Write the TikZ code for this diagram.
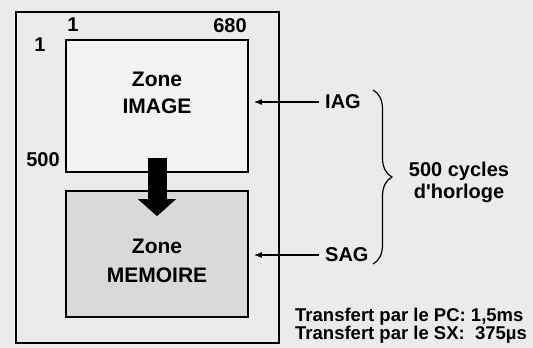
\documentclass[tikz,border=0pt]{standalone}
\usepackage{fontspec}
\setmainfont{Liberation Sans}
\usetikzlibrary{arrows.meta,decorations.pathreplacing,positioning,calc}

\tikzset{
  zone/.style={draw, line width=1.6pt, minimum width=182pt, inner sep=0pt},
  lbl/.style={font=\bfseries\fontsize{20}{26}\selectfont, inner sep=1pt, align=center},
  sig/.style={-{Latex[length=8pt,width=6pt]}, line width=1.2pt},
}

\begin{document}
\begin{tikzpicture}[x=1pt,y=-1pt]
  \fill[black!8] (0,0) rectangle (533,348);
  \useasboundingbox (0,0) rectangle (533,348);
  % frame of the sensor
  \draw[line width=2pt] (16,12) rectangle (279,343);
  \node[zone, fill=black!5, minimum height=132pt] (image) at (157,106) {};
  \node[zone, fill=black!15, minimum height=126pt] (memoire) at (157,254) {};
  \node[lbl, font=\bfseries\fontsize{21}{27}\selectfont] (timage)
    at ($(image.center)+(0,-13)$) {Zone\\IMAGE};
  \node[lbl, font=\bfseries\fontsize{21}{29}\selectfont] (tmemoire)
    at ($(memoire.center)+(0,7)$) {Zone\\MEMOIRE};

  % pixel numbers
  \node[lbl] (r1) at (40,45) {1};
  \node[lbl] (c1) at (73,25) {1};
  \node[lbl] (c680) at (230,26) {680};
  \node[lbl] (r500) at (43,160) {500};

  % transfer
  \draw[line width=19pt, -{Triangle[width=37pt,length=17pt]}]
    ($(image.south)+(0,-15)$) -- ($(memoire.north)+(0,26)$);

  % clocks
  \node[lbl, anchor=west] (iag) at (324,102) {IAG};
  \node[lbl, anchor=west] (sag) at (324,255) {SAG};
  \draw[sig, shorten <=5pt] (iag.west) -- ($(image.east |- iag.west)+(5,0)$);
  \draw[sig, shorten <=5pt] (sag.west) -- ($(memoire.east |- sag.west)+(5,0)$);
  \draw[line width=1.2pt, decorate, decoration={brace, amplitude=19pt}]
    (373,90) -- (373,264);
  \node[lbl, font=\bfseries\fontsize{20}{22}\selectfont] (cycles) at (459,182)
    {500 cycles\\d\textquotesingle horloge};

  \node[lbl, anchor=west, align=left, font=\bfseries\fontsize{18.5}{15}\selectfont]
    (transfert) at (294,326)
    {Transfert par le PC: 1,5ms\\Transfert par le SX:\ \ 375µs};
\end{tikzpicture}
\end{document}
